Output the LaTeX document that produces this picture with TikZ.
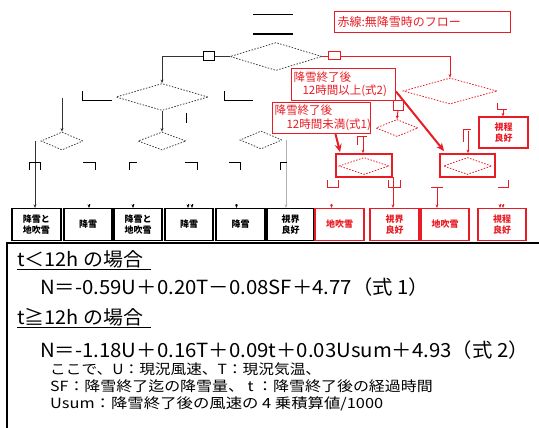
\documentclass[tikz,border=0pt]{standalone}
\usepackage{fontspec}
\setmainfont{Noto Sans CJK JP}
\usetikzlibrary{shapes.geometric,arrows.meta}
\definecolor{rd}{RGB}{232,28,36}
\begin{document}
\begin{tikzpicture}[x=1pt,y=-1pt,
  fbox/.style={draw, line width=1.3pt, minimum width=48pt, minimum height=32pt, inner sep=0pt, align=center, font=\bfseries\fontsize{9}{10.5}\selectfont},
  rfbox/.style={fbox, draw=rd, text=rd},
  dia/.style={diamond, draw=black!75, dash pattern=on 1.5pt off 1.5pt, line width=0.8pt, inner sep=0pt},
  rdia/.style={dia, draw=rd},
  note/.style={draw=rd, line width=1pt, text=rd, inner sep=2pt, align=left, anchor=north west, font=\fontsize{11.5}{13.5}\selectfont},
  conn/.style={line width=1pt, draw=black!80},
  rconn/.style={line width=1pt, draw=rd},
  tip/.style={-{Stealth[length=3.5pt,width=3pt]}},
  brk/.style={line width=0.9pt},
  rbrk/.style={line width=0.9pt, draw=rd},
  bigarrow/.style={draw=rd, line width=2pt, -{Stealth[length=8pt,width=7pt]}},
  frame/.style={draw=rd, line width=1.8pt, minimum height=23pt, inner sep=0pt},
  txt/.style={anchor=base west, inner sep=0pt},
]
\useasboundingbox (0,0) rectangle (539,428);

% ---- start terminal
\node[minimum width=40pt, minimum height=19pt, inner sep=0pt] (st) at (273,24.5) {};
\draw[line width=1.4pt] (st.north west) -- (st.north east) (st.south west) -- (st.south east);

% ---- diamonds (black)
\node[dia, minimum width=92pt, minimum height=28pt] (d1) at (276,56.5) {};
\node[dia, minimum width=92pt, minimum height=27pt] (d2) at (162,97) {};
\node[dia, minimum width=48pt, minimum height=18pt] (d4) at (162,141) {};
\node[dia, minimum width=42pt, minimum height=18pt] (d5) at (62,141) {};
\node[dia, minimum width=42pt, minimum height=18pt] (d6) at (261,140) {};

% ---- diamonds (red)
\node[rdia, minimum width=94pt, minimum height=26pt] (d3) at (450,91) {};
\node[rdia, minimum width=42pt, minimum height=17pt] (d7) at (397,128) {};
\node[frame, minimum width=56pt] (F1) at (364,165.5) {};
\node[rdia, minimum width=50pt, minimum height=17pt] (d8) at (364,166) {};
\node[frame, minimum width=55pt] (F2) at (467.5,165.5) {};
\node[rdia, minimum width=48pt, minimum height=17pt] (d9) at (467.5,166) {};

% ---- result boxes
\node[fbox, minimum width=49pt] (b1) at (36.5,224.5) {降雪と\\地吹雪};
\node[fbox] (b2) at (88,224.5) {降雪};
\node[fbox] (b3) at (138,224.5) {降雪と\\地吹雪};
\node[fbox] (b4) at (189,224.5) {降雪};
\node[fbox, minimum width=49pt] (b5) at (240.5,224.5) {降雪};
\node[fbox, minimum width=47pt] (b6) at (290.5,224.5) {視界\\良好};
\node[rfbox, minimum width=49pt] (b7) at (339.5,224.5) {地吹雪};
\node[rfbox, minimum width=49pt] (b8) at (394.5,224.5) {視界\\良好};
\node[rfbox] (b9) at (445,224.5) {地吹雪};
\node[rfbox] (b10) at (502,224.5) {視程\\良好};
\node[rfbox, minimum width=49pt, minimum height=31pt] (r0) at (503.5,132.5) {視程\\良好};

% ---- notes
\node[note, text width=170pt, minimum height=21pt, inner sep=3pt, font=\fontsize{12}{14}\selectfont] (leg) at (334,11) {赤線:無降雪時のフロー};
\node[note, text width=100pt, minimum height=32pt, fill=white] (n2) at (291,68) {降雪終了後\\\hspace*{9pt}12時間以上(式2)};
\node[note, text width=94pt, minimum height=31pt, fill=white] (n1) at (272,102) {降雪終了後\\\hspace*{12pt}12時間未満(式1)};

% ---- black connectors
\draw[conn,tip] (d1.west) -| (d2.north);
\node[draw, line width=0.9pt, fill=white, minimum width=11pt, minimum height=9pt, inner sep=0pt] (lb1) at (208.5,56) {};
\draw[conn,tip] (d2.south) -- (d4.north);
\draw[brk] (186,113) -- (186,123);
\draw[brk] (82,91) -- (82,100) -- (112,100);
\draw[brk] (224,91) -- (224,100) -- (253,100);
\coordinate (p5) at (62,98);
\draw[conn,tip] (p5) -- (d5.north);
\coordinate (p1) at (35,141);
\draw[conn,tip] (p1) -- (p1 |- b1.north);
\coordinate (p6) at (286,140);
\draw[line width=0.8pt, draw=black!30, tip] (p6) -- (p6 |- b6.north);
\draw[brk] (29,170) -- (29,162) -- (40,162) -- (40,170);
\draw[brk] (83,162) -- (95,162) -- (95,170);
\draw[brk] (137,162) -- (129,162) -- (129,170);
\draw[brk] (185,162) -- (197,162) -- (197,170);
\draw[brk] (229,162) -- (240,162) -- (240,170);
\draw[brk] (287,162) -- (280,162) -- (280,170);
\foreach \n/\dx in {b2/1,b3/-5,b4/-1,b4/3,b5/-4}
  \draw[line width=0.5pt, tip] ([xshift=\dx pt,yshift=4pt]\n.north) -- ([xshift=\dx pt]\n.north);

% ---- red connectors
\draw[rconn,tip] (d1.east) -| (d3.north);
\node[draw=rd, line width=0.9pt, fill=white, minimum width=12pt, minimum height=8pt, inner sep=0pt] (lb2) at (334,55) {};
\node[draw=rd, line width=0.9pt, fill=white, minimum width=10pt, minimum height=10pt, inner sep=0pt] (rb1) at (398,105) {};
\draw[rconn,tip] (rb1.south) -- (d7.north);
\draw[rbrk] (357,145) -- (357,136) -- (367,136);
\coordinate (q1) at (363,136);
\draw[rconn,tip] (q1) -- (q1 |- F1.north);
\draw[rbrk] (463,142) -- (463,129) -- (471,129);
\coordinate (q2) at (468,131);
\draw[rconn,tip] (q2) -- (q2 |- F2.north);
\draw[rbrk] (497,103) -- (497,109) -- (507,109);
\coordinate (q3) at (503,109);
\draw[rconn,tip] (q3) -- (q3 |- r0.north);
\draw[rbrk] (327,180) -- (327,187) -- (338,187) -- (338,180);
\draw[rbrk] (388,180) -- (388,187) -- (400,187) -- (400,180);
\coordinate (q4) at (393,177);
\draw[line width=0.7pt, draw=rd, tip] (q4) -- (q4 |- b8.north);
\draw[rbrk] (431,187) -- (443,187);
\coordinate (q5) at (437,187);
\draw[line width=0.8pt, draw=rd, tip] (q5) -- (q5 |- b9.north);
\draw[rbrk] (498,187) -- (508,187) -- (508,180);
\foreach \n/\dx in {b7/-8,b10/-2,b10/1}
  \draw[line width=0.5pt, draw=rd, tip] ([xshift=\dx pt,yshift=4pt]\n.north) -- ([xshift=\dx pt]\n.north);

% ---- thick arrows
\draw[bigarrow] ([yshift=-7pt]n2.east) -- ([xshift=5pt,yshift=2pt]F2.north west);
\draw[bigarrow] ([xshift=14pt]n1.south) -- ([xshift=5pt,yshift=1pt]F1.north west);

% ---- formula panel
\draw[line width=1.8pt] (560,243) -- (7,243) -- (7,450);
\draw[line width=1pt] (7,243) rectangle (560,450);
\node[txt, font=\fontsize{19}{22}\selectfont] (h1) at (17,266) {\scalebox{1.05}[1]{t＜12h の場合}};
\draw[line width=1.6pt] (17,269.5) -- (151,269.5);
\node[txt, font=\fontsize{19.5}{22}\selectfont] (f1) at (40,294) {\scalebox{1.045}[1]{N＝-0.59U＋0.20T－0.08SF＋4.77（式 1）}};
\node[txt, font=\fontsize{19}{22}\selectfont] (h2) at (17,324) {\scalebox{1.05}[1]{t≧12h の場合}};
\draw[line width=1.6pt] (17,327.5) -- (151,327.5);
\node[txt, font=\fontsize{19.5}{22}\selectfont] (f2) at (40,357) {\scalebox{1.045}[1]{N＝-1.18U＋0.16T＋0.09t＋0.03Usum＋4.93（式 2）}};
\node[txt, font=\fontsize{14}{17}\selectfont] (s1) at (50,374) {\scalebox{1.12}[1]{ここで、U：現況風速、T：現況気温、}};
\node[txt, font=\fontsize{14}{17}\selectfont] (s2) at (50,391) {\scalebox{1.14}[1]{SF：降雪終了迄の降雪量、 t ：降雪終了後の経過時間}};
\node[txt, font=\fontsize{14}{17}\selectfont] (s3) at (50,408) {\scalebox{1.17}[1]{Usum：降雪終了後の風速の 4 乗積算値/1000}};
\end{tikzpicture}
\end{document}
